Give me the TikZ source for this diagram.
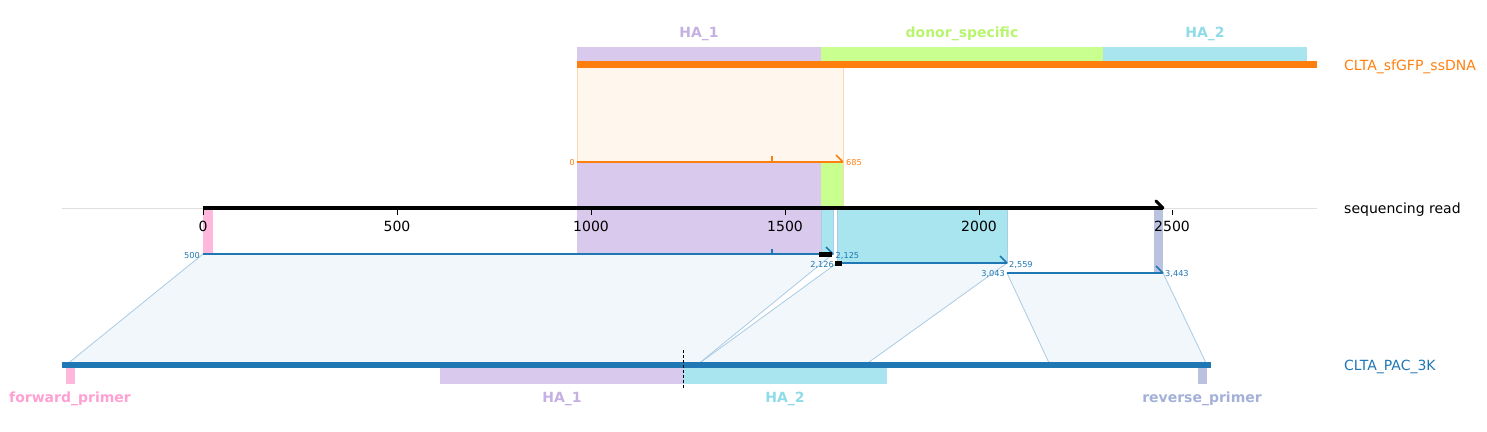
\documentclass[tikz,border=0pt]{standalone}
\usepackage{fontspec}
\setmainfont{DejaVu Sans}
\definecolor{cOrange}{HTML}{FF7F0E}
\definecolor{cBlue}{HTML}{1F77B4}
\definecolor{cPurple}{HTML}{D9C9EC}
\definecolor{cPurpleT}{HTML}{C5B0E3}
\definecolor{cGreen}{HTML}{C9FF8F}
\definecolor{cGreenT}{HTML}{B8F56E}
\definecolor{cCyan}{HTML}{A8E5EE}
\definecolor{cCyanT}{HTML}{8FDBE8}
\definecolor{cPink}{HTML}{FFB7DC}
\definecolor{cPinkT}{HTML}{FFA0D2}
\definecolor{cSlate}{HTML}{B9C3DF}
\definecolor{cSlateT}{HTML}{A3B0D8}
\definecolor{cOrFill}{HTML}{FFF6EE}
\definecolor{cOrEdge}{HTML}{FCD8B6}
\definecolor{cBlFill}{HTML}{F1F7FB}
\definecolor{cBlEdge}{HTML}{A9CBE5}
\tikzset{
  big/.style={font=\fontsize{14}{16}\selectfont, inner sep=0pt},
  featlab/.style={font=\bfseries\fontsize{14}{16}\selectfont, inner sep=0pt},
  small/.style={font=\fontsize{8.2}{10}\selectfont, inner sep=0pt},
  trap/.style={fill=cBlFill, draw=cBlEdge, line width=0.8pt},
  aln/.style={draw=cBlue, line width=1.6pt},
  oaln/.style={draw=cOrange, line width=1.6pt},
  tickmk/.style={draw=black, line width=0.8pt},
}
\begin{document}
\begin{tikzpicture}[x=1pt,y=-1pt]
\useasboundingbox (0,0) rectangle (1487,431);
% axis spine
\draw[black!12, line width=0.8pt] (62,208) -- (1317,208);
% alignment coordinates
\coordinate (r1a) at (203,254); \coordinate (r1b) at (833,254);
\coordinate (r2a) at (837,263); \coordinate (r2b) at (1007,263);
\coordinate (r3a) at (1007,273); \coordinate (r3b) at (1163,273);
\coordinate (p1a) at (66,365); \coordinate (p1b) at (697,365);
\coordinate (p2a) at (697,365); \coordinate (p2b) at (865,365);
\coordinate (p3a) at (1050,365); \coordinate (p3b) at (1207,365);
% trapezoids
\draw[trap] (r1a) -- (r1b) -- (p1b) -- (p1a) -- cycle;
\draw[trap] (r2a) -- (r2b) -- (p2b) -- (p2a) -- cycle;
\draw[trap] (r3a) -- (r3b) -- (p3b) -- (p3a) -- cycle;
% ssDNA alignment box
\coordinate (s0) at (577,162); \coordinate (s1) at (843,162);
\fill[cOrFill] (577,67) rectangle (843,162);
\draw[cOrEdge, line width=0.8pt] (577,67) -- (577,208) (843,67) -- (843,208);
% projected features onto read
\fill[cPurple] (577,162) rectangle (821,254);
\fill[cGreen] (821,162) rectangle (843,208);
\draw[fill=cCyan, draw=cBlEdge, line width=0.8pt] (821,208) rectangle (833,254);
\draw[fill=cCyan, draw=cBlEdge, line width=0.8pt] (837,208) rectangle (1007,263);
\fill[cPink] (203,208) rectangle (213,254);
\fill[cSlate] (1154,208) rectangle (1163,273);
% sequencing read
\coordinate (rd0) at (203,208); \coordinate (rd1) at (1163,208);
\draw[black, line width=4pt] (rd0) -- (rd1);
\draw[black, line width=3pt, line cap=round] (1156,201) -- (rd1);
% ticks
\foreach \xx/\lab in {203/0,397/500,591/1000,785/1500,979/2000,1172/2500}{
  \draw[tickmk] (\xx,210) -- (\xx,215);
  \node[big] (t\lab) at (\xx,226) {\lab};
}
% orange alignment line
\draw[oaln] (s0) -- (s1);
\draw[oaln] (836,155) -- (s1);
\draw[oaln, line width=1.2pt] (772,156) -- (772,162);
\node[small, text=cOrange, anchor=east] (o0) at (575,162.5) {0};
\node[small, text=cOrange, anchor=west] (o685) at (846,162.5) {685};
% blue alignment lines
\draw[aln] (r1a) -- (r1b);
\draw[aln] (826,247) -- (r1b);
\draw[aln, line width=1.2pt] (772,249) -- (772,254);
\fill[black] (819,252) rectangle (832,256.5);
\draw[aln] (r2a) -- (r2b);
\draw[aln] (1000,256) -- (r2b);
\fill[black] (835,261) rectangle (842,266);
\draw[aln] (r3a) -- (r3b);
\draw[aln] (1156,266) -- (r3b);
\node[small, text=cBlue, anchor=east] (l500) at (200,255.5) {500};
\node[small, text=cBlue, anchor=west] (l2125) at (835.5,255.5) {2,125};
\node[small, text=cBlue, anchor=east] (l2126) at (834,264.5) {2,126};
\node[small, text=cBlue, anchor=west] (l2559) at (1009,264.5) {2,559};
\node[small, text=cBlue, anchor=east] (l3043) at (1005,273.5) {3,043};
\node[small, text=cBlue, anchor=west] (l3443) at (1165,273.5) {3,443};
% top ssDNA
\fill[cPurple] (577,47) rectangle (821,61);
\fill[cGreen] (821,47) rectangle (1103,61);
\fill[cCyan] (1103,47) rectangle (1307,61);
\fill[cOrange] (577,61) rectangle (1317,67.5);
\node[featlab, text=cPurpleT] (fHA1top) at (699,34) {HA\_1};
\node[featlab, text=cGreenT] (fDonor) at (962,34) {donor\_specific};
\node[featlab, text=cCyanT] (fHA2top) at (1205,34) {HA\_2};
% bottom plasmid
\fill[cPink] (66,368) rectangle (75,384);
\fill[cPurple] (440,368) rectangle (683,384);
\fill[cCyan] (683,368) rectangle (887,384);
\fill[cSlate] (1198,368) rectangle (1207,384);
\fill[cBlue] (62,361.5) rectangle (1211,368);
\draw[black, dashed, dash pattern=on 3pt off 2pt, line width=0.9pt] (683,350) -- (683,389);
\node[featlab, text=cPinkT] (fFwd) at (70,399) {forward\_primer};
\node[featlab, text=cPurpleT] (fHA1bot) at (562,399) {HA\_1};
\node[featlab, text=cCyanT] (fHA2bot) at (785,399) {HA\_2};
\node[featlab, text=cSlateT] (fRev) at (1202,399) {reverse\_primer};
% track names
\node[big, text=cOrange, anchor=west] (nSs) at (1344,67) {CLTA\_sfGFP\_ssDNA};
\node[big, text=black, anchor=west] (nRead) at (1344,210) {sequencing read};
\node[big, text=cBlue, anchor=west] (nPac) at (1344,367) {CLTA\_PAC\_3K};
\end{tikzpicture}
\end{document}
